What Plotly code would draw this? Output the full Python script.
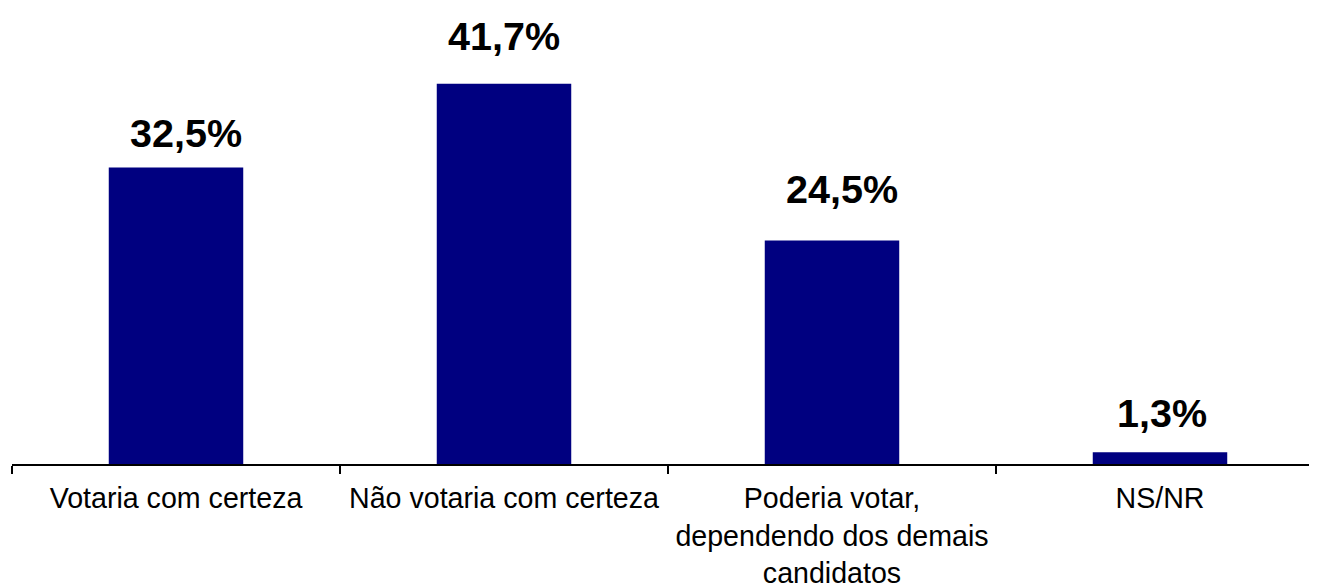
import plotly.graph_objects as go

categories = ["Votaria com certeza", "Não votaria com certeza",
              "Poderia votar,<br>dependendo dos demais<br>candidatos", "NS/NR"]
values = [32.5, 41.7, 24.5, 1.3]
labels = ["32,5%", "41,7%", "24,5%", "1,3%"]

# pixel offsets of the value labels (styling, as placed in the original)
label_xshift = [10, 0, 10, 2]
label_yshift = [11, 24, 28, 15]

fig = go.Figure()
fig.add_trace(go.Bar(x=categories, y=values, width=0.41,
                     marker=dict(color="#000080", line=dict(width=0))))

for c, v, t, dx, dy in zip(categories, values, labels, label_xshift, label_yshift):
    fig.add_annotation(x=c, y=v, text="<b>" + t + "</b>", showarrow=False,
                       yanchor="bottom", yshift=dy, xshift=dx,
                       font=dict(family="Liberation Sans, Arial", size=39.5, color="black"))

fig.update_layout(
    width=1317, height=579,
    margin=dict(l=4, r=1, t=0, b=123, autoexpand=False),
    plot_bgcolor="white", paper_bgcolor="white",
    showlegend=False,
)
fig.update_xaxes(type="category", range=[-0.5, 3.5], showline=True, linecolor="black",
                 linewidth=2, ticks="outside", tickson="boundaries", ticklen=8,
                 tickwidth=1.5, tickcolor="black", showgrid=False, tickangle=0,
                 automargin=False, ticklabelstandoff=8,
                 tickfont=dict(family="Liberation Sans, Arial", size=28.6, color="black"))
fig.update_yaxes(range=[0, 50.0], visible=False, showgrid=False, automargin=False)

fig.write_html("out.html")
